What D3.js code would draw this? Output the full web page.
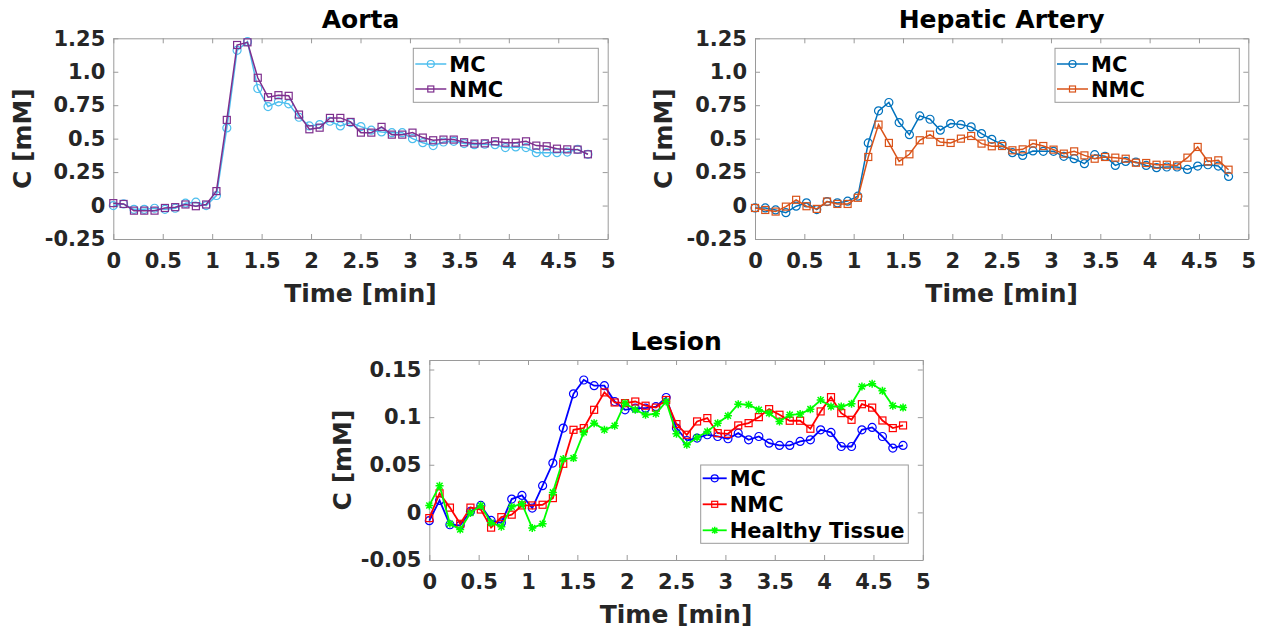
<!DOCTYPE html>
<html>
<head>
<meta charset="utf-8">
<script src="https://cdn.jsdelivr.net/npm/d3@7"></script>
<style>
  body { margin: 0; background: #fff; }
  text { font-family: "DejaVu Sans", sans-serif; font-weight: bold; fill: #262626; }
</style>
</head>
<body>
<script>

// sample times [min]
var times = [0, 0.104, 0.209, 0.313, 0.417, 0.522, 0.626, 0.730, 0.835, 0.939,
  1.043, 1.148, 1.252, 1.357, 1.461, 1.565, 1.670, 1.774, 1.878, 1.983,
  2.087, 2.191, 2.296, 2.400, 2.504, 2.609, 2.713, 2.817, 2.922, 3.026,
  3.130, 3.235, 3.339, 3.443, 3.548, 3.652, 3.757, 3.861, 3.965, 4.070,
  4.174, 4.278, 4.383, 4.487, 4.591, 4.696, 4.800];

var timeTicks = [0, 0.5, 1, 1.5, 2, 2.5, 3, 3.5, 4, 4.5, 5];
var timeTickLabels = ['0', '0.5', '1', '1.5', '2', '2.5', '3', '3.5', '4', '4.5', '5'];

var vesselTicks = [-0.25, 0, 0.25, 0.5, 0.75, 1, 1.25];
var vesselTickLabels = ['-0.25', '0', '0.25', '0.5', '0.75', '1.0', '1.25'];

var lesionTicks = [-0.05, 0, 0.05, 0.1, 0.15];
var lesionTickLabels = ['-0.05', '0', '0.05', '0.1', '0.15'];

var aortaMC = [0.0, 0.012, -0.028, -0.028, -0.02, -0.028, -0.02, 0.018, 0.025, 0.0,
  0.075, 0.58, 1.16, 1.225, 0.875, 0.74, 0.775, 0.76, 0.66, 0.595,
  0.605, 0.63, 0.595, 0.62, 0.59, 0.563, 0.55, 0.545, 0.545, 0.5,
  0.47, 0.448, 0.475, 0.48, 0.463, 0.455, 0.458, 0.455, 0.433, 0.438,
  0.433, 0.395, 0.395, 0.395, 0.4, 0.42, 0.383];
var aortaNMC = [0.018, 0.012, -0.038, -0.038, -0.038, -0.018, -0.012, 0.008, -0.005, 0.008,
  0.108, 0.64, 1.2, 1.22, 0.955, 0.81, 0.825, 0.82, 0.68, 0.57,
  0.582, 0.655, 0.655, 0.625, 0.545, 0.545, 0.588, 0.53, 0.53, 0.545,
  0.508, 0.488, 0.493, 0.493, 0.473, 0.463, 0.465, 0.48, 0.47, 0.47,
  0.48, 0.448, 0.443, 0.425, 0.42, 0.418, 0.383];

var hepaticMC = [-0.018, -0.018, -0.033, -0.053, -0.005, 0.02, -0.03, 0.03, 0.02, 0.033,
  0.07, 0.468, 0.708, 0.77, 0.62, 0.53, 0.67, 0.645, 0.563, 0.613,
  0.605, 0.588, 0.538, 0.495, 0.458, 0.395, 0.375, 0.408, 0.405, 0.405,
  0.368, 0.35, 0.313, 0.38, 0.368, 0.3, 0.33, 0.325, 0.3, 0.283,
  0.288, 0.288, 0.27, 0.295, 0.305, 0.295, 0.218];
var hepaticNMC = [-0.018, -0.033, -0.045, -0.008, 0.043, -0.005, -0.025, 0.03, 0.012, 0.012,
  0.058, 0.363, 0.605, 0.468, 0.33, 0.383, 0.488, 0.53, 0.475, 0.468,
  0.5, 0.52, 0.463, 0.443, 0.445, 0.413, 0.42, 0.463, 0.445, 0.418,
  0.388, 0.405, 0.375, 0.35, 0.363, 0.358, 0.35, 0.32, 0.318, 0.305,
  0.305, 0.3, 0.358, 0.438, 0.33, 0.338, 0.268];

var lesionMC = [-0.0087, 0.0126, -0.013, -0.0136, 0.001, 0.0073, -0.0084, -0.011, 0.014, 0.0178,
  0.0045, 0.028, 0.0518, 0.0885, 0.1245, 0.139, 0.133, 0.133, 0.1164, 0.1077,
  0.1094, 0.1094, 0.111, 0.1206, 0.0885, 0.0755, 0.078, 0.0815, 0.0797, 0.0773,
  0.0832, 0.0762, 0.0797, 0.0727, 0.0703, 0.0703, 0.0745, 0.0762, 0.0867, 0.084,
  0.0692, 0.0692, 0.0867, 0.0892, 0.0797, 0.0675, 0.0703];
var lesionNMC = [-0.006, 0.020, 0.005, -0.012, 0.005, 0.003, -0.016, -0.005, -0.0024, 0.0073,
  0.0073, 0.008, 0.015, 0.051, 0.0867, 0.0885, 0.1077, 0.126, 0.1154, 0.1147,
  0.1164, 0.112, 0.110, 0.118, 0.0927, 0.0815, 0.0955, 0.099, 0.0832, 0.0825,
  0.0913, 0.0937, 0.100, 0.1084, 0.1025, 0.0962, 0.0962, 0.0878, 0.106, 0.121,
  0.1042, 0.0972, 0.1136, 0.110, 0.0965, 0.0885, 0.0913];
var lesionHealthy = [0.0073, 0.028, -0.012, -0.018, -0.0007, 0.0073, -0.011, -0.015, 0.006, 0.009,
  -0.0164, -0.012, 0.021, 0.056, 0.057, 0.084, 0.0937, 0.0867, 0.091, 0.1147,
  0.1077, 0.1025, 0.1035, 0.1164, 0.0825, 0.071, 0.0787, 0.085, 0.0937, 0.1014,
  0.1136, 0.113, 0.1077, 0.1042, 0.0955, 0.1025, 0.1032, 0.1084, 0.118, 0.1112,
  0.1112, 0.114, 0.1322, 0.135, 0.1276, 0.1119, 0.110];

var svg = d3.select('body').append('svg')
            .attr('width', 1270)
            .attr('height', 628);

var boxColor = '#9a9a9a';

var drawMarker = function(sel, kind, color, size) {
  if (kind === 'circle') {
    sel.append('circle').attr('r', size).attr('fill', 'none')
       .attr('stroke', color).attr('stroke-width', 1.2);
  } else if (kind === 'square') {
    sel.append('rect').attr('x', -size + 0.5).attr('y', -size + 0.5)
       .attr('width', 2 * size - 1).attr('height', 2 * size - 1)
       .attr('fill', 'none').attr('stroke', color).attr('stroke-width', 1.2);
  } else {
    var s = size, t = size * 0.75;
    sel.append('path')
       .attr('d', 'M' + -s + ',0H' + s + 'M0,' + -s + 'V' + s +
                  'M' + -t + ',' + -t + 'L' + t + ',' + t + 'M' + -t + ',' + t + 'L' + t + ',' + -t)
       .attr('fill', 'none').attr('stroke', color).attr('stroke-width', 1.5);
  }
};

var drawPanel = function(p) {
  var x = d3.scaleLinear().domain([0, 5]).range([p.left, p.right]);
  var y = d3.scaleLinear().domain(p.yDomain).range([p.bottom, p.top]);
  var g = svg.append('g');

  g.append('g').attr('transform', 'translate(0,' + p.bottom + ')')
   .call(d3.axisBottom(x).tickValues(timeTicks)
           .tickFormat(function(d, i) { return timeTickLabels[i]; })
           .tickSizeInner(-5).tickSizeOuter(0).tickPadding(14));
  g.append('g').attr('transform', 'translate(0,' + p.top + ')')
   .call(d3.axisTop(x).tickValues(timeTicks).tickFormat('')
           .tickSizeInner(-5).tickSizeOuter(0));
  g.append('g').attr('transform', 'translate(' + p.left + ',0)')
   .call(d3.axisLeft(y).tickValues(p.yTicks)
           .tickFormat(function(d, i) { return p.yLabels[i]; })
           .tickSizeInner(-5).tickSizeOuter(0).tickPadding(8));
  g.append('g').attr('transform', 'translate(' + p.right + ',0)')
   .call(d3.axisRight(y).tickValues(p.yTicks).tickFormat('')
           .tickSizeInner(-5).tickSizeOuter(0));

  g.selectAll('.domain, .tick line').attr('stroke', boxColor);
  g.selectAll('.tick text').attr('font-size', 21)
   .attr('font-family', '"DejaVu Sans", sans-serif').attr('fill', '#262626');

  var line = d3.line()
               .x(function(d, i) { return x(times[i]); })
               .y(function(d) { return y(d); });

  p.series.forEach(function(s) {
    g.append('path').datum(s.values)
     .attr('d', line)
     .attr('fill', 'none')
     .attr('stroke', s.color)
     .attr('stroke-width', p.lineWidth);
    g.selectAll(null).data(s.values).enter().append('g')
     .attr('transform', function(d, i) { return 'translate(' + x(times[i]) + ',' + y(d) + ')'; })
     .each(function() { drawMarker(d3.select(this), s.marker, s.color, 4); });
  });

  var cx = (p.left + p.right) / 2;
  g.append('text').attr('x', cx).attr('y', p.top - 10)
   .attr('text-anchor', 'middle').attr('font-size', 25).style('fill', '#000').text(p.title);
  g.append('text').attr('x', cx).attr('y', p.bottom + 62.5)
   .attr('text-anchor', 'middle').attr('font-size', 25).text('Time [min]');
  g.append('text')
   .attr('transform', 'translate(' + p.ylabelX + ',' + (p.top + p.bottom) / 2 + ') rotate(-90)')
   .attr('text-anchor', 'middle').attr('dy', '0.35em').attr('font-size', 25).text('C [mM]');

  // legend
  var L = p.legend;
  var lg = g.append('g').attr('transform', 'translate(' + L.x + ',' + L.y + ')');
  lg.append('rect').attr('width', L.w).attr('height', L.h)
    .attr('fill', '#fff').attr('stroke', boxColor);
  p.series.forEach(function(s, i) {
    var ry = L.first + i * L.step;
    lg.append('line').attr('x1', 2).attr('x2', L.lineEnd).attr('y1', ry).attr('y2', ry)
      .attr('stroke', s.color).attr('stroke-width', p.lineWidth);
    var m = lg.append('g').attr('transform', 'translate(' + (2 + L.lineEnd) / 2 + ',' + ry + ')');
    drawMarker(m, s.marker, s.color, 3.5);
    lg.append('text').attr('x', L.lineEnd + 3).attr('y', ry).attr('dy', '0.36em')
      .attr('font-size', 21).style('fill', '#000').text(s.name);
  });
};

drawPanel({
  title: 'Aorta', left: 113.3, right: 607.7, top: 38.3, bottom: 239,
  yDomain: [-0.25, 1.25], yTicks: vesselTicks, yLabels: vesselTickLabels, ylabelX: 22,
  lineWidth: 1.5,
  legend: { x: 413.3, y: 48.3, w: 185, h: 54, first: 15.7, step: 25, lineEnd: 33 },
  series: [
    { name: 'MC', values: aortaMC, color: '#4DBEEE', marker: 'circle' },
    { name: 'NMC', values: aortaNMC, color: '#7E2F8E', marker: 'square' }
  ]
});

drawPanel({
  title: 'Hepatic Artery', left: 755, right: 1248.3, top: 38.3, bottom: 239,
  yDomain: [-0.25, 1.25], yTicks: vesselTicks, yLabels: vesselTickLabels, ylabelX: 663,
  lineWidth: 1.5,
  legend: { x: 1055, y: 48.3, w: 184.3, h: 54, first: 15.7, step: 25, lineEnd: 33 },
  series: [
    { name: 'MC', values: hepaticMC, color: '#0072BD', marker: 'circle' },
    { name: 'NMC', values: hepaticNMC, color: '#D95319', marker: 'square' }
  ]
});

drawPanel({
  title: 'Lesion', left: 429.3, right: 922.8, top: 360, bottom: 560,
  yDomain: [-0.05, 0.16], yTicks: lesionTicks, yLabels: lesionTickLabels, ylabelX: 342,
  lineWidth: 1.8,
  legend: { x: 700.7, y: 465, w: 207.6, h: 78.3, first: 13.3, step: 26, lineEnd: 26 },
  series: [
    { name: 'MC', values: lesionMC, color: '#0000FF', marker: 'circle' },
    { name: 'NMC', values: lesionNMC, color: '#FF0000', marker: 'square' },
    { name: 'Healthy Tissue', values: lesionHealthy, color: '#00FF00', marker: 'star' }
  ]
});

</script>
</body>
</html>
